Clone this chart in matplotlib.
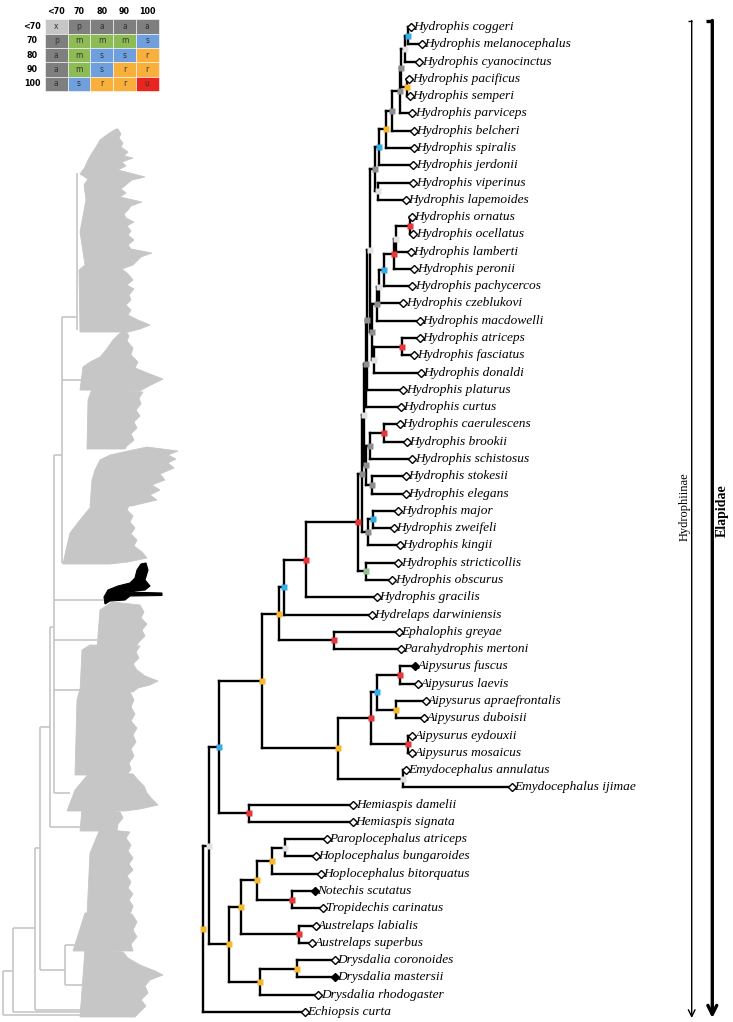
import matplotlib
matplotlib.use("Agg")
import matplotlib.pyplot as plt
from matplotlib.patches import Rectangle, Polygon

# ---------------- data ----------------
tip_names = [
    "Hydrophis coggeri", "Hydrophis melanocephalus", "Hydrophis cyanocinctus",
    "Hydrophis pacificus", "Hydrophis semperi", "Hydrophis parviceps",
    "Hydrophis belcheri", "Hydrophis spiralis", "Hydrophis jerdonii",
    "Hydrophis viperinus", "Hydrophis lapemoides", "Hydrophis ornatus",
    "Hydrophis ocellatus", "Hydrophis lamberti", "Hydrophis peronii",
    "Hydrophis pachycercos", "Hydrophis czeblukovi", "Hydrophis macdowelli",
    "Hydrophis atriceps", "Hydrophis fasciatus", "Hydrophis donaldi",
    "Hydrophis platurus", "Hydrophis curtus", "Hydrophis caerulescens",
    "Hydrophis brookii", "Hydrophis schistosus", "Hydrophis stokesii",
    "Hydrophis elegans", "Hydrophis major", "Hydrophis zweifeli",
    "Hydrophis kingii", "Hydrophis stricticollis", "Hydrophis obscurus",
    "Hydrophis gracilis", "Hydrelaps darwiniensis", "Ephalophis greyae",
    "Parahydrophis mertoni", "Aipysurus fuscus", "Aipysurus laevis",
    "Aipysurus apraefrontalis", "Aipysurus duboisii", "Aipysurus eydouxii",
    "Aipysurus mosaicus", "Emydocephalus annulatus", "Emydocephalus ijimae",
    "Hemiaspis damelii", "Hemiaspis signata", "Paroplocephalus atriceps",
    "Hoplocephalus bungaroides", "Hoplocephalus bitorquatus", "Notechis scutatus",
    "Tropidechis carinatus", "Austrelaps labialis", "Austrelaps superbus",
    "Drysdalia coronoides", "Drysdalia mastersii", "Drysdalia rhodogaster",
    "Echiopsis curta",
]
tip_depth = [
    410.7, 421.7, 419.3, 409.3, 410.0, 412.3, 414.0, 414.0, 413.3, 413.3, 406.0,
    411.7, 413.3, 410.7, 414.3, 412.3, 403.3, 420.0, 420.0, 414.3, 420.7, 403.3,
    401.0, 400.0, 406.7, 412.3, 406.0, 405.7, 398.3, 394.0, 400.0, 398.3, 392.3,
    376.7, 371.7, 399.0, 400.7, 415.0, 418.3, 425.7, 424.0, 412.3, 412.3, 405.7,
    511.7, 353.3, 352.7, 326.7, 315.7, 320.7, 315.0, 323.3, 315.7, 312.3, 335.0,
    335.0, 318.3, 305.0,
]
tip_filled = ["Aipysurus fuscus", "Notechis scutatus", "Drysdalia mastersii"]

# internal nodes: (name, child1, child2, depth, support code)
nodes = [
    ("n1", "Hydrophis coggeri", "Hydrophis melanocephalus", 407.7, "s"),
    ("n2", "n1", "Hydrophis cyanocinctus", 405.0, "x"),
    ("n3", "Hydrophis pacificus", "Hydrophis semperi", 406.7, "r"),
    ("n4", "n2", "n3", 401.0, "a"),
    ("n5", "n4", "Hydrophis parviceps", 399.5, "a"),
    ("n6", "n5", "Hydrophis belcheri", 391.7, "a"),
    ("n7", "n6", "Hydrophis spiralis", 386.0, "r"),
    ("n8", "n7", "Hydrophis jerdonii", 379.3, "s"),
    ("n9", "Hydrophis viperinus", "Hydrophis lapemoides", 377.7, "x"),
    ("n10", "n8", "n9", 375.0, "a"),
    ("n11", "Hydrophis ornatus", "Hydrophis ocellatus", 410.0, "u"),
    ("n12", "n11", "Hydrophis lamberti", 395.7, "x"),
    ("n13", "n12", "Hydrophis peronii", 394.3, "u"),
    ("n14", "n13", "Hydrophis pachycercos", 384.3, "s"),
    ("n15", "n14", "Hydrophis czeblukovi", 379.0, "x"),
    ("n16", "n15", "Hydrophis macdowelli", 376.7, "a"),
    ("n17", "Hydrophis atriceps", "Hydrophis fasciatus", 401.7, "u"),
    ("n18", "n17", "Hydrophis donaldi", 374.3, "x"),
    ("n19", "n16", "n18", 371.7, "a"),
    ("n20", "n10", "n19", 370.0, "x"),
    ("n21", "n20", "Hydrophis platurus", 367.3, "a"),
    ("n22", "n21", "Hydrophis curtus", 365.7, "a"),
    ("n23", "Hydrophis caerulescens", "Hydrophis brookii", 384.3, "u"),
    ("n24", "n23", "Hydrophis schistosus", 370.0, "a"),
    ("n25", "Hydrophis stokesii", "Hydrophis elegans", 371.7, "a"),
    ("n26", "n24", "n25", 366.0, "a"),
    ("n27", "n22", "n26", 363.5, "x"),
    ("n28", "Hydrophis major", "Hydrophis zweifeli", 372.7, "s"),
    ("n29", "n28", "Hydrophis kingii", 367.7, "a"),
    ("n30", "n27", "n29", 361.8, "a"),
    ("n31", "Hydrophis stricticollis", "Hydrophis obscurus", 366.0, "m"),
    ("n32", "n30", "n31", 358.3, "u"),
    ("n33", "n32", "Hydrophis gracilis", 306.0, "u"),
    ("n34", "n33", "Hydrelaps darwiniensis", 284.0, "s"),
    ("n35", "Ephalophis greyae", "Parahydrophis mertoni", 334.0, "u"),
    ("n36", "n34", "n35", 279.0, "r"),
    ("n37", "Aipysurus fuscus", "Aipysurus laevis", 400.0, "u"),
    ("n38", "Aipysurus apraefrontalis", "Aipysurus duboisii", 396.0, "r"),
    ("n39", "n37", "n38", 377.3, "s"),
    ("n40", "Aipysurus eydouxii", "Aipysurus mosaicus", 408.3, "u"),
    ("n41", "n39", "n40", 370.7, "u"),
    ("n42", "Emydocephalus annulatus", "Emydocephalus ijimae", 403.3, "x"),
    ("n43", "n41", "n42", 338.3, "r"),
    ("n44", "n36", "n43", 261.7, "r"),
    ("n45", "Hemiaspis damelii", "Hemiaspis signata", 249.0, "u"),
    ("n46", "n44", "n45", 219.3, "s"),
    ("n47", "Paroplocephalus atriceps", "Hoplocephalus bungaroides", 285.0, "x"),
    ("n48", "n47", "Hoplocephalus bitorquatus", 272.3, "r"),
    ("n49", "Notechis scutatus", "Tropidechis carinatus", 292.3, "u"),
    ("n50", "n48", "n49", 256.7, "r"),
    ("n51", "Austrelaps labialis", "Austrelaps superbus", 299.3, "u"),
    ("n52", "n50", "n51", 240.7, "r"),
    ("n53", "Drysdalia coronoides", "Drysdalia mastersii", 297.3, "r"),
    ("n54", "n53", "Drysdalia rhodogaster", 260.0, "r"),
    ("n55", "n52", "n54", 229.3, "r"),
    ("n56", "n46", "n55", 209.0, "x"),
    ("n57", "n56", "Echiopsis curta", 202.7, "r"),
]

# support legend table
table_cols = ["<70", "70", "80", "90", "100"]
table_rows = ["<70", "70", "80", "90", "100"]
table_codes = [
    ["x", "p", "a", "a", "a"],
    ["p", "m", "m", "m", "s"],
    ["a", "m", "s", "s", "r"],
    ["a", "m", "s", "r", "r"],
    ["a", "s", "r", "r", "u"],
]
cell_colors = {"x": "#c6c6c6", "p": "#7f7f7f", "a": "#7f7f7f", "m": "#8dbb55",
               "s": "#6f9fdc", "r": "#f8af3c", "u": "#e8251f"}
node_colors = {"x": "#e2e2e2", "p": "#8e8e8e", "a": "#8e8e8e", "m": "#94c191",
               "s": "#35aee8", "r": "#f6b82c", "u": "#e8373a"}

# background (grey) tree: collapsed clade outlines (left edge, right edge) and backbone
grey_clades = [
    ([(116, 129), (108, 134), (100, 140), (96, 147), (92, 153), (88, 160), (85, 167),
      (80, 174), (88, 179), (84, 185), (86, 200), (80, 232), (85, 265), (79, 270),
      (80, 332)],
     [(118, 129), (121, 134), (119, 138), (123, 143), (121, 147), (128, 152), (124, 156),
      (133, 158), (122, 162), (126, 166), (118, 170), (130, 173), (145, 177), (132, 180),
      (127, 184), (121, 189), (126, 193), (120, 197), (142, 202), (131, 206), (128, 210),
      (124, 214), (126, 218), (134, 222), (127, 226), (131, 231), (128, 235), (134, 240),
      (128, 245), (131, 249), (152, 253), (141, 257), (137, 261), (133, 265), (122, 269),
      (128, 274), (133, 280), (127, 285), (134, 289), (129, 295), (131, 300), (126, 305),
      (131, 310), (128, 315), (138, 320), (150, 325), (140, 329), (128, 332)]),
    ([(124, 330), (118, 335), (113, 340), (106, 350), (100, 357), (90, 362), (83, 367),
      (80, 390)],
     [(125, 330), (129, 336), (127, 341), (133, 348), (131, 355), (138, 362), (135, 368),
      (150, 374), (163, 379), (155, 383), (147, 387), (140, 391)]),
    ([(92, 389), (88, 400), (87, 449)],
     [(143, 392), (139, 398), (141, 404), (136, 410), (140, 416), (134, 422), (137, 428),
      (131, 434), (134, 440), (127, 446), (125, 449)]),
    ([(147, 447), (128, 451), (110, 455), (100, 460), (95, 470), (92, 480), (90, 506)],
     [(178, 451), (168, 455), (176, 459), (168, 463), (174, 468), (160, 474), (165, 480),
      (152, 485), (160, 490), (150, 495), (157, 500), (140, 504), (132, 506)]),
    ([(93, 504), (80, 520), (70, 533), (66, 550), (63, 564)],
     [(130, 504), (127, 510), (133, 516), (130, 522), (135, 528), (131, 534), (137, 540),
      (134, 546), (142, 552), (147, 558), (128, 562), (110, 564)]),
    ([(112, 602), (100, 610), (97, 648)],
     [(140, 605), (144, 612), (141, 618), (147, 624), (142, 630), (145, 636), (139, 642),
      (135, 648)]),
    ([(90, 645), (82, 650), (80, 692)],
     [(140, 646), (136, 652), (139, 658), (133, 664), (137, 670), (145, 676), (158, 681),
      (150, 685), (138, 688), (133, 692)]),
    ([(80, 689), (77, 700), (75, 775)],
     [(130, 692), (134, 700), (131, 707), (135, 714), (131, 721), (137, 728), (133, 735),
      (136, 742), (131, 749), (134, 756), (129, 763), (131, 769), (127, 775)]),
    ([(90, 772), (75, 790), (67, 811)],
     [(133, 774), (138, 780), (144, 786), (147, 793), (152, 799), (158, 805), (140, 809),
      (125, 811)]),
    ([(82, 809), (80, 831)],
     [(120, 812), (123, 818), (118, 824), (117, 831)]),
    ([(100, 829), (90, 853), (87, 915)],
     [(130, 832), (126, 838), (131, 845), (128, 851), (133, 858), (129, 864), (133, 870),
      (127, 876), (131, 882), (128, 888), (133, 894), (129, 900), (133, 906), (131, 912),
      (128, 915)]),
    ([(85, 913), (73, 951)],
     [(132, 914), (137, 922), (133, 930), (137, 937), (131, 944), (133, 951)]),
    ([(85, 949), (80, 1017)],
     [(123, 952), (128, 958), (140, 965), (155, 971), (163, 975), (150, 980), (145, 986),
      (148, 993), (141, 1000), (146, 1006), (140, 1012), (135, 1017)]),
]
grey_vertical = [(76.7, 173, 330), (62, 317, 563), (54, 455, 793), (50, 627, 827),
                 (40, 727, 970), (35, 848, 1010), (12.7, 928, 1012), (2.7, 971, 1015),
                 (65, 945, 985)]
grey_horizontal = [(317, 62, 77), (380, 62, 82), (455, 54, 62), (563, 62, 100),
                   (600, 54, 104), (640, 54, 97), (690, 54, 80), (627, 50, 54),
                   (793, 54, 70), (727, 40, 50), (827, 50, 82), (848, 35, 40),
                   (970, 40, 65), (945, 65, 75), (985, 65, 82), (928, 12.7, 35),
                   (1010, 35, 85), (971, 2.7, 12.7), (1012, 12.7, 95), (1015, 2.7, 135)]
focal_clade = [(141, 564), (146, 563), (148, 570), (145, 580), (150, 586), (145, 590),
               (125, 592), (162, 593), (162, 595.5), (130, 596), (125, 600), (110, 601),
               (105, 604), (104, 597), (108, 590), (118, 586), (130, 583), (135, 578),
               (137, 570)]

# ---------------- figure ----------------
W, H = 733, 1022
fig = plt.figure(figsize=(W / 100, H / 100), dpi=100)
ax = fig.add_axes([0, 0, 1, 1])
ax.set_xlim(0, W)
ax.set_ylim(H, 0)
ax.axis("off")

# background tree
GREY = "#c6c6c6"
for left, right in grey_clades:
    pts = left + right[::-1]
    ax.add_patch(Polygon(pts, closed=True, facecolor=GREY, edgecolor=GREY, lw=0.6))
for x, y1, y2 in grey_vertical:
    ax.plot([x, x], [y1, y2], color=GREY, lw=1.2, solid_capstyle="butt")
for y, x1, x2 in grey_horizontal:
    ax.plot([x1, x2], [y, y], color=GREY, lw=1.2, solid_capstyle="butt")
ax.add_patch(Polygon(focal_clade, closed=True, facecolor="black", edgecolor="black", lw=0.8))

# main tree
Y0, Y1 = 27.0, 1012.0
step = (Y1 - Y0) / (len(tip_names) - 1)
pos = {}
for i, (n, d) in enumerate(zip(tip_names, tip_depth)):
    pos[n] = (d, Y0 + i * step)

LW = 1.7
node_pts = []
for name, c1, c2, d, code in nodes:
    x1, y1 = pos[c1]
    x2, y2 = pos[c2]
    ax.plot([d, d], [y1, y2], color="black", lw=LW, solid_capstyle="projecting", zorder=2)
    ax.plot([d, x1], [y1, y1], color="black", lw=LW, solid_capstyle="projecting", zorder=2)
    ax.plot([d, x2], [y2, y2], color="black", lw=LW, solid_capstyle="projecting", zorder=2)
    pos[name] = (d, (y1 + y2) / 2)
    node_pts.append((d, (y1 + y2) / 2, code))

for d, y, code in node_pts:
    ax.plot(d, y, marker="s", ms=4.6, mec="none", mfc=node_colors[code], zorder=4)

for n in tip_names:
    x, y = pos[n]
    fc = "black" if n in tip_filled else "white"
    ax.plot(x, y, marker="D", ms=3.6, mfc=fc, mec="black", mew=1.0, zorder=5)
    ax.text(x + 2.5, y, n, fontsize=9.6, fontstyle="italic", family="Liberation Serif",
            ha="left", va="center", zorder=6)

# support table
col_x0, col_w = 45.0, 22.7
row_y0, row_h = 19.5, 14.3
for j, lab in enumerate(table_cols):
    ax.text(col_x0 + (j + 0.5) * col_w, 11, lab, fontsize=5.8, fontweight="bold",
            family="DejaVu Sans", ha="center", va="center")
for i, lab in enumerate(table_rows):
    yc = row_y0 + (i + 0.5) * row_h
    ax.text(32, yc, lab, fontsize=5.8, fontweight="bold", family="DejaVu Sans",
            ha="center", va="center")
    for j, code in enumerate(table_codes[i]):
        ax.add_patch(Rectangle((col_x0 + j * col_w, row_y0 + i * row_h), col_w, row_h,
                               facecolor=cell_colors[code], edgecolor="white", lw=0.4))
        ax.text(col_x0 + (j + 0.5) * col_w, yc, code, fontsize=5.5, color="#333333",
                family="DejaVu Sans", ha="center", va="center")

# clade brackets
for x, lw, ms, tick in [(691.7, 1.0, 12, 3.7), (712.3, 2.4, 16, 6.0)]:
    ax.plot([x - tick, x], [21, 21], color="black", lw=lw, solid_capstyle="butt")
    ax.annotate("", xy=(x, 1018), xytext=(x, 20.5),
                arrowprops=dict(arrowstyle="->", lw=lw, color="black",
                                shrinkA=0, shrinkB=0, mutation_scale=ms))
ax.text(684.5, 507, "Hydrophiinae", rotation=90, fontsize=9, family="Liberation Serif",
        ha="center", va="center")
ax.text(722.5, 511, "Elapidae", rotation=90, fontsize=10, fontweight="bold",
        family="Liberation Serif", ha="center", va="center")

fig.savefig("out.png", dpi=100)
